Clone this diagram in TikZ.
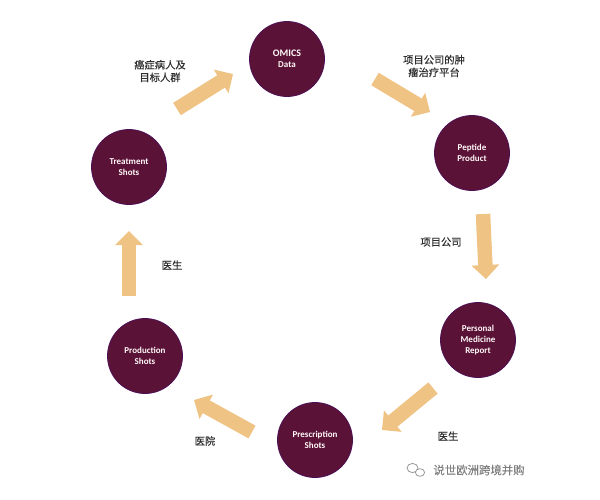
\documentclass[tikz,border=0pt]{standalone}
\usepackage{fontspec}
\setmainfont{Carlito}
\newfontfamily\cjk{Noto Sans CJK SC}[FakeBold=0.25]
\usetikzlibrary{arrows.meta}
\definecolor{wine}{HTML}{5A1236}
\definecolor{sand}{HTML}{EFC384}
\definecolor{inktext}{HTML}{2E2E2E}
\tikzset{
  hub/.style={circle,draw=wine!85!blue,line width=0.8pt,fill=wine,minimum size=75pt,inner sep=0pt,
    text=white!90!pink,align=center,font=\fontsize{9}{10.8}\selectfont\bfseries},
  bigarrow/.style={draw=sand,line width=14.5pt,-{Triangle[width=27pt,length=14pt,fill=sand]}},
  note/.style={text=inktext,align=center,inner sep=0pt,font=\fontsize{10.3}{12.6}\selectfont\cjk},
  wmtext/.style={text=black!50,inner sep=0pt,font=\fontsize{11.4}{13}\selectfont\cjk},
  bubble/.style={draw=black!40,fill=white,line width=0.8pt}
}
\begin{document}
\begin{tikzpicture}[x=1pt,y=-1pt]
\useasboundingbox (0,0) rectangle (600,499);
\fill[white] (0,0) rectangle (600,499);
\node[hub] (omics) at (287,59) {\fontsize{10}{12.5}\selectfont OMICS\\Data};
\node[hub] (peptide) at (472,153) {Peptide\\Product};
\node[hub] (personal) at (478,340) {Personal\\Medicine\\Report};
\node[hub] (prescription) at (315,440) {Prescription\\Shots};
\node[hub] (production) at (145,356) {Production\\Shots};
\node[hub] (treatment) at (129,167) {Treatment\\Shots};
\coordinate (a1s) at (177,109); \coordinate (a1e) at (233,74);
\coordinate (a2s) at (375,79);  \coordinate (a2e) at (430,112);
\coordinate (a3s) at (483,214); \coordinate (a3e) at (486,279);
\coordinate (a4s) at (433,388); \coordinate (a4e) at (382,430);
\coordinate (a5s) at (252,432); \coordinate (a5e) at (194,400);
\coordinate (a6s) at (129,296); \coordinate (a6e) at (129,231);
\draw[bigarrow] (a1s) -- (a1e);
\draw[bigarrow] (a2s) -- (a2e);
\draw[bigarrow] (a3s) -- (a3e);
\draw[bigarrow] (a4s) -- (a4e);
\draw[bigarrow] (a5s) -- (a5e);
\draw[bigarrow] (a6s) -- (a6e);
\node[note] (n1) at (160,71) {癌症病人及\\目标人群};
\node[note] (n2) at (434,66) {项目公司的肿\\瘤治疗平台};
\node[note] (n3) at (441,242) {项目公司};
\node[note] (n4) at (448,436) {医生};
\node[note] (n5) at (205,441) {医院};
\node[note] (n6) at (172,265) {医生};
\node[wmtext] (wm) at (479,470) {说世欧洲跨境并购};
\filldraw[bubble] (412.5,468) ellipse (5.5pt and 4.6pt);
\filldraw[bubble] (420,472.5) ellipse (4.6pt and 3.8pt);
\end{tikzpicture}
\end{document}
